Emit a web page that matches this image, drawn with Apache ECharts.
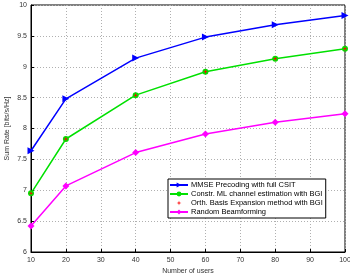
<!DOCTYPE html>
<html>
<head>
    <meta charset="utf-8">
    <title>Sum rate</title>
    <script src="https://cdn.jsdelivr.net/npm/echarts@6/dist/echarts.min.js"></script>
    <style>
        html, body { margin: 0; padding: 0; background: #fff; }
    </style>
</head>
<body>
<div id="main" style="width: 350px;height:273px;"></div>
<script type="text/javascript">
    // number of users
    var users = [10, 20, 40, 60, 80, 100];
    // sum rate values [bits/s/Hz]
    var mmse = [7.64, 8.48, 9.14, 9.48, 9.68, 9.83];
    var constrML = [6.95, 7.83, 8.54, 8.92, 9.13, 9.29];
    var orthBasis = [6.95, 7.83, 8.54, 8.92, 9.13, 9.29];
    var randomBf = [6.42, 7.07, 7.61, 7.91, 8.10, 8.24];
    var names = ['MMSE Precoding with full CSIT', 'Constr. ML channel estimation with BGI',
        'Orth. Basis Expansion method with BGI', 'Random Beamforming'];

    function pairs(vals) {
        return users.map(function (u, i) { return [u, vals[i]]; });
    }

    var font = 'Liberation Sans, Arial, sans-serif';
    var gridLine = { show: true, lineStyle: { color: '#b0b0b0', type: [1, 2], width: 1 } };
    var starPath = 'path://M5,0 L6,4 L10,5 L6,6 L5,10 L4,6 L0,5 L4,4 Z';

    var myChart = echarts.init(document.getElementById('main'));
    myChart.setOption({
        animation: false,
        grid: {
            left: 31, right: 5, top: 5, bottom: 21,
            outerBoundsMode: 'none', containLabel: false,
            show: true, borderColor: '#000', borderWidth: 1
        },
        legend: {
            data: names,
            orient: 'vertical',
            left: 168, top: 179,
            itemWidth: 18, itemHeight: 6, itemGap: 1,
            padding: [2, 3, 2, 1],
            borderColor: '#000', borderWidth: 1,
            backgroundColor: '#fff',
            textStyle: { fontSize: 7.5, fontFamily: font, color: '#000', padding: [0, 0, 0, -2] }
        },
        xAxis: {
            type: 'value', min: 10, max: 100, interval: 10,
            name: 'Number of users', nameLocation: 'middle', nameGap: 16,
            nameMoveOverlap: false,
            nameTextStyle: { fontSize: 7, fontFamily: font, color: '#333' },
            axisLine: { lineStyle: { color: '#000' } },
            axisTick: { inside: true, length: 3, lineStyle: { color: '#000' } },
            axisLabel: { fontSize: 7, fontFamily: font, color: '#333', margin: 5 },
            splitLine: gridLine
        },
        yAxis: {
            type: 'value', min: 6, max: 10, interval: 0.5,
            name: 'Sum Rate [bits/s/Hz]', nameLocation: 'middle', nameGap: 20,
            nameMoveOverlap: false,
            nameTextStyle: { fontSize: 7, fontFamily: font, color: '#333' },
            axisLine: { show: true, lineStyle: { color: '#000' } },
            axisTick: { show: true, inside: true, length: 3, lineStyle: { color: '#000' } },
            axisLabel: { fontSize: 7, fontFamily: font, color: '#333', margin: 4 },
            splitLine: gridLine
        },
        series: [
            {
                name: names[0], type: 'line', data: pairs(mmse),
                symbol: 'triangle', symbolRotate: -90, symbolSize: 7,
                itemStyle: { color: '#0000ff' },
                lineStyle: { color: '#0000ff', width: 1.5 }
            },
            {
                name: names[1], type: 'line', data: pairs(constrML),
                symbol: 'circle', symbolSize: 6,
                itemStyle: { color: '#00e000' },
                lineStyle: { color: '#00e000', width: 1.5 }
            },
            {
                name: names[2], type: 'line', data: pairs(orthBasis),
                symbol: starPath, symbolSize: 5,
                itemStyle: { color: '#ff0000' },
                lineStyle: { width: 0, opacity: 0 }
            },
            {
                name: names[3], type: 'line', data: pairs(randomBf),
                symbol: 'diamond', symbolSize: 7,
                itemStyle: { color: '#ff00ff' },
                lineStyle: { color: '#ff00ff', width: 1.5 }
            }
        ]
    });
</script>
</body>
</html>
